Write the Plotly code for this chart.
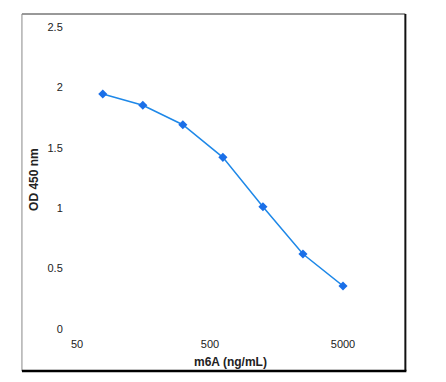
import math
import plotly.graph_objects as go

conc = [78.125, 156.25, 312.5, 625, 1250, 2500, 5000]
od450 = [1.945, 1.852, 1.691, 1.421, 1.012, 0.621, 0.356]
x_ticks = [50, 500, 5000]
y_ticks = [0, 0.5, 1, 1.5, 2, 2.5]
y_tick_text = ["0", "0.5", "1", "1.5", "2", "2.5"]

OFF = 8  # page body margin
W, H = 446 - OFF, 382 - OFF
L, R, T, B = 77 - OFF, 446 - 342.7, 27 - OFF, 382 - 329
pw, ph = W - L - R, H - T - B

def px(xp):
    return (xp - OFF - L) / pw

def py(yp):
    return (H - B - (yp - OFF)) / ph

fig = go.Figure()
fig.add_trace(go.Scatter(
    x=conc, y=od450, mode="lines+markers",
    line=dict(color="#1E88E8", width=1.5),
    marker=dict(symbol="diamond", size=7, color="#1A6FE8"),
    cliponaxis=False, showlegend=False,
))

font = dict(family="Liberation Sans, Arial, sans-serif", size=11, color="#222222")
tfont = dict(family="Liberation Sans, Arial, sans-serif", size=12, color="#222222")
fig.update_layout(
    width=W, height=H,
    margin=dict(l=L, r=R, t=T, b=B),
    paper_bgcolor="white", plot_bgcolor="white",
    font=font,
    xaxis=dict(type="log", range=[math.log10(50), math.log10(5000)],
               tickvals=x_ticks, ticktext=[str(v) for v in x_ticks],
               showgrid=False, zeroline=False, showline=False,
               ticks="outside", ticklen=5, tickcolor="rgba(0,0,0,0)",
               tickfont=font),
    yaxis=dict(range=[0, 2.5], tickvals=y_ticks, ticktext=y_tick_text,
               showgrid=False, zeroline=False, showline=False,
               ticks="outside", ticklen=11, tickcolor="rgba(0,0,0,0)",
               tickfont=font),
    annotations=[
        dict(text="<b>m6A (ng/mL)</b>", xref="paper", yref="paper",
             x=px(230), y=py(362), xanchor="center", yanchor="middle",
             showarrow=False, font=tfont),
        dict(text="<b>OD 450 nm</b>", xref="paper", yref="paper",
             x=px(34), y=py(179), xanchor="center", yanchor="middle",
             showarrow=False, textangle=-90, font=tfont),
    ],
    shapes=[
        dict(type="line", xref="paper", yref="paper", x0=px(22), x1=px(405), y0=py(14), y1=py(14),
             line=dict(color="#333333", width=1)),
        dict(type="line", xref="paper", yref="paper", x0=px(22), x1=px(22), y0=py(14), y1=py(371),
             line=dict(color="#888888", width=1)),
        dict(type="line", xref="paper", yref="paper", x0=px(405), x1=px(405), y0=py(14), y1=py(371),
             line=dict(color="#111111", width=2)),
        dict(type="line", xref="paper", yref="paper", x0=px(22), x1=px(406), y0=py(371), y1=py(371),
             line=dict(color="#000000", width=2.5)),
    ],
)

fig.write_html("out.html")
